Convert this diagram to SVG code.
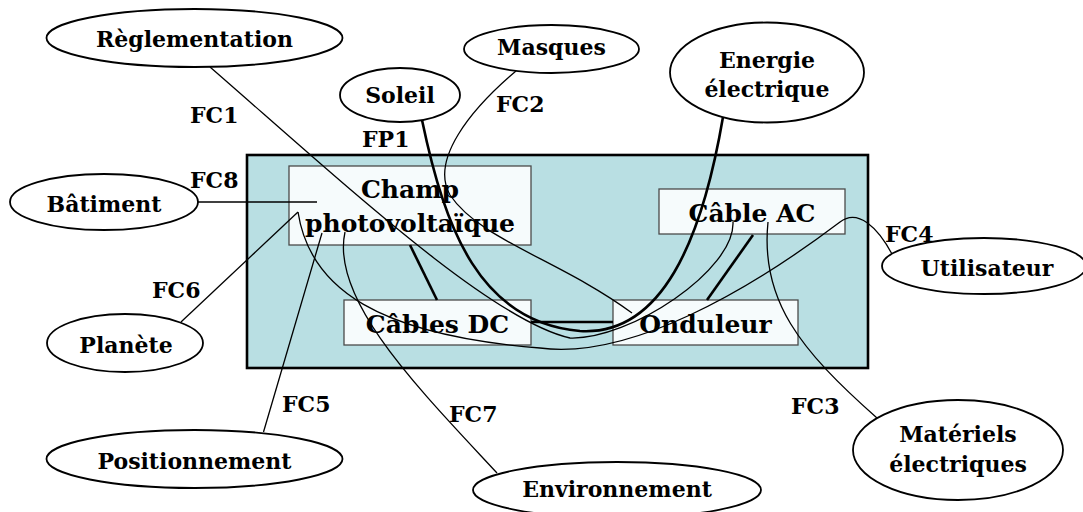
<svg xmlns="http://www.w3.org/2000/svg" width="1083" height="512" viewBox="0 0 1083 512">
  <style>
    .lbl { font-family: "DejaVu Serif", "Liberation Serif", serif; font-weight: bold; font-size: 22px; fill: #000; }
    .big { font-size: 25px; text-anchor: middle; }
    .mid { text-anchor: middle; }
    .ext { fill: #fff; stroke: #000; stroke-width: 1.8; }
    .sys { fill: #b9dfe3; stroke: #000; stroke-width: 2.6; }
    .part { fill: #f6fbfc; stroke: #4a4a4a; stroke-width: 1.3; }
    .thin { fill: none; stroke: #000; stroke-width: 1.3; }
    .thick { fill: none; stroke: #000; stroke-width: 2.6; }
  </style>

  <!-- photovoltaic system boundary -->
  <g id="systeme">
    <rect class="sys" x="247" y="155" width="621" height="213"/>
  </g>

  <!-- components of the system -->
  <g id="champ">
    <rect class="part" x="289" y="166" width="242" height="79"/>
    <text class="lbl big" x="410" y="198">Champ</text>
    <text class="lbl big" x="410" y="232">photovoltaïque</text>
  </g>
  <g id="cables-dc">
    <rect class="part" x="344" y="300" width="187" height="45"/>
    <text class="lbl big" x="437.5" y="333">Câbles DC</text>
  </g>
  <g id="onduleur">
    <rect class="part" x="613" y="300" width="185" height="45"/>
    <text class="lbl big" x="705.5" y="333">Onduleur</text>
  </g>
  <g id="cable-ac">
    <rect class="part" x="659" y="189" width="186" height="45"/>
    <text class="lbl big" x="752" y="222">Câble AC</text>
  </g>

  <!-- functions linking the surroundings to the components -->
  <g id="connectors">
    <!-- internal links -->
    <line class="thick" x1="410" y1="245" x2="437" y2="300"/>
    <line class="thick" x1="531" y1="322" x2="613" y2="322"/>
    <line class="thick" x1="753" y1="235" x2="707" y2="300"/>
    <!-- FP1 : Soleil -> Energie électrique -->
    <path class="thick" d="M422,120 C445,230 480,322 580,331 C662,336 702,240 723,117"/>
    <!-- FC1 : Règlementation -->
    <path class="thin" d="M210,67 C340,180 490,320 570,338 C630,340 735,270 733,222"/>
    <!-- FC2 : Masques -->
    <path class="thin" d="M516,71 C470,110 430,160 450,195 C480,240 560,260 632,313"/>
    <!-- FC3 : Matériels électriques -->
    <path class="thin" d="M877,418 C800,350 760,300 768,222"/>
    <!-- FC4 : Utilisateur -->
    <path class="thin" d="M298,212 C310,290 380,335 540,348 C630,360 750,290 840,222 C858,208 878,228 892,254"/>
    <!-- FC5 : Positionnement -->
    <line class="thin" x1="263.5" y1="432" x2="322" y2="233"/>
    <!-- FC6 : Planète -->
    <line class="thin" x1="181" y1="322" x2="298" y2="212"/>
    <!-- FC7 : Environnement -->
    <path class="thin" d="M497,473 C420,390 330,300 345,232"/>
    <!-- FC8 : Bâtiment -->
    <line class="thin" x1="198" y1="202" x2="317" y2="202"/>
  </g>

  <!-- function labels -->
  <g id="function-labels">
    <text class="lbl" x="190" y="123">FC1</text>
    <text class="lbl" x="362" y="147">FP1</text>
    <text class="lbl" x="496" y="112">FC2</text>
    <text class="lbl" x="190" y="188">FC8</text>
    <text class="lbl" x="152" y="298">FC6</text>
    <text class="lbl" x="282" y="412">FC5</text>
    <text class="lbl" x="449" y="422">FC7</text>
    <text class="lbl" x="791" y="414">FC3</text>
    <text class="lbl" x="885" y="242">FC4</text>
  </g>

  <!-- surrounding elements -->
  <g id="reglementation">
    <ellipse class="ext" cx="194.5" cy="38" rx="148" ry="29"/>
    <text class="lbl mid" x="194.5" y="46.5">Règlementation</text>
  </g>
  <g id="masques">
    <ellipse class="ext" cx="551.5" cy="49" rx="87.5" ry="24"/>
    <text class="lbl mid" x="551.5" y="55">Masques</text>
  </g>
  <g id="soleil">
    <ellipse class="ext" cx="400" cy="95" rx="60" ry="27"/>
    <text class="lbl mid" x="400" y="103">Soleil</text>
  </g>
  <g id="energie">
    <ellipse class="ext" cx="767" cy="72.5" rx="97" ry="50"/>
    <text class="lbl mid" x="767" y="67.5">Energie</text>
    <text class="lbl mid" x="767" y="97">électrique</text>
  </g>
  <g id="batiment">
    <ellipse class="ext" cx="104" cy="202" rx="94" ry="28"/>
    <text class="lbl mid" x="104" y="211.5">Bâtiment</text>
  </g>
  <g id="planete">
    <ellipse class="ext" cx="125" cy="343" rx="78" ry="29"/>
    <text class="lbl mid" x="126" y="353">Planète</text>
  </g>
  <g id="positionnement">
    <ellipse class="ext" cx="194.5" cy="459" rx="148" ry="29"/>
    <text class="lbl mid" x="194.5" y="468.5">Positionnement</text>
  </g>
  <g id="environnement">
    <ellipse class="ext" cx="617" cy="490" rx="144" ry="28"/>
    <text class="lbl mid" x="617" y="497">Environnement</text>
  </g>
  <g id="utilisateur">
    <ellipse class="ext" cx="984" cy="266" rx="102" ry="28"/>
    <text class="lbl mid" x="987" y="276">Utilisateur</text>
  </g>
  <g id="materiels">
    <ellipse class="ext" cx="958" cy="450" rx="105" ry="50"/>
    <text class="lbl mid" x="958" y="442">Matériels</text>
    <text class="lbl mid" x="958" y="472">électriques</text>
  </g>
</svg>
